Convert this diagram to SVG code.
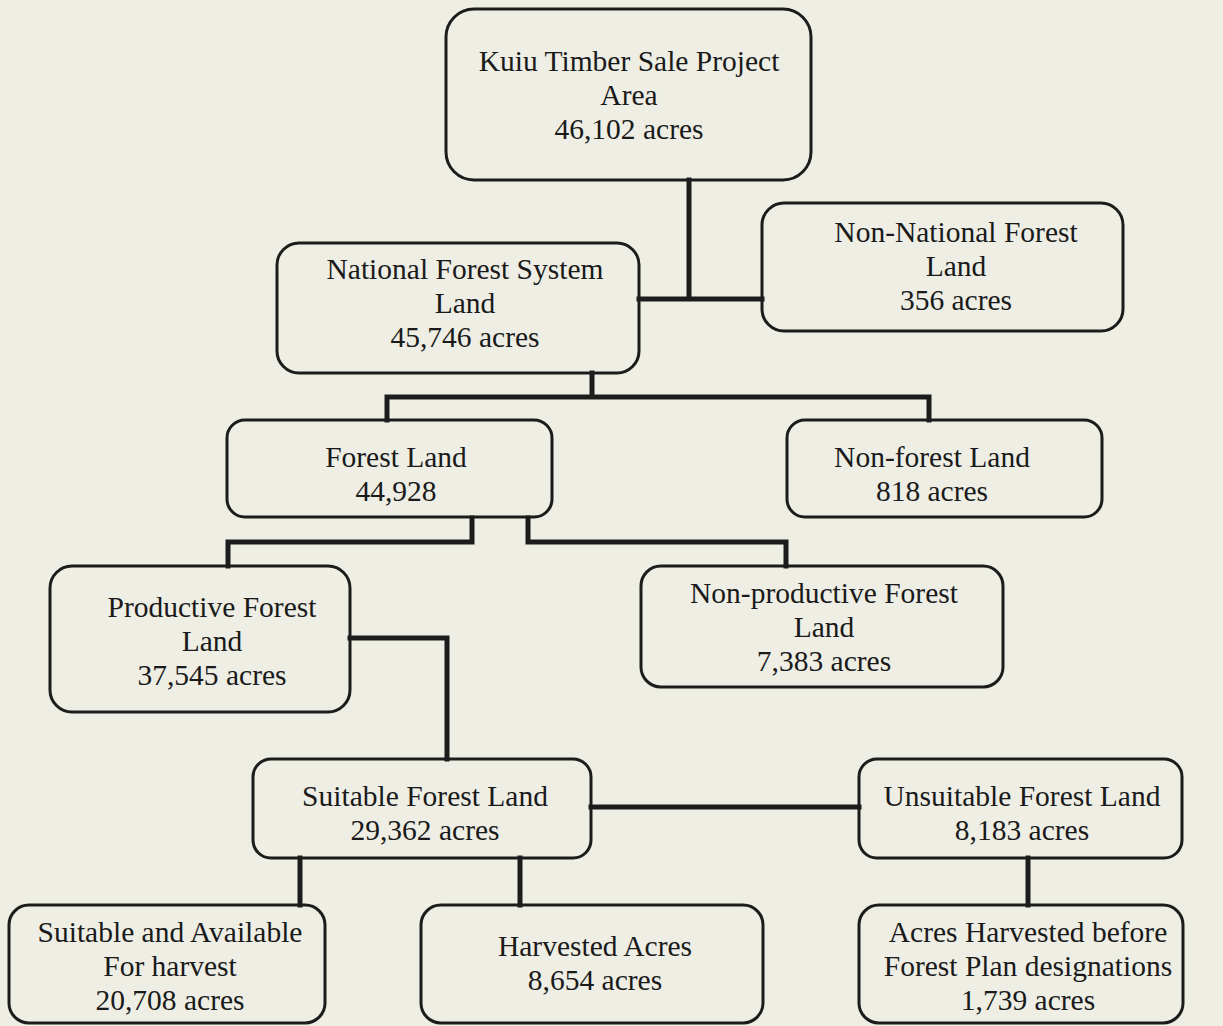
<svg xmlns="http://www.w3.org/2000/svg" width="1223" height="1026" viewBox="0 0 1223 1026">
  <style>
    .box { fill: none; stroke: #1c1c1c; stroke-width: 3; }
    .link { fill: none; stroke: #1c1c1c; stroke-width: 5; stroke-linejoin: miter; stroke-linecap: square; }
    text { font-family: "Liberation Serif", "Times New Roman", serif; font-size: 29.5px; fill: #1a1a1a; text-anchor: middle; }
  </style>
  <rect width="1223" height="1026" fill="#eeeee5"/>

  <!-- connectors -->
  <g id="connectors">
    <path class="link" d="M689,180 V299 M639,299 H762"/>
    <path class="link" d="M592,373 V397 M387,420 V397 H929 V420"/>
    <path class="link" d="M472,518 V542 H228 V566"/>
    <path class="link" d="M528,518 V542 H786 V566"/>
    <path class="link" d="M350,638 H447 V759"/>
    <path class="link" d="M591,807 H859"/>
    <path class="link" d="M300,858 V905 M520,858 V905"/>
    <path class="link" d="M1028,858 V905"/>
  </g>

  <g id="project-area">
    <rect class="box" x="446" y="9" width="365" height="171" rx="28"/>
    <text x="629" y="71">Kuiu Timber Sale Project</text>
    <text x="629" y="105">Area</text>
    <text x="629" y="139">46,102 acres</text>
  </g>

  <g id="nfs-land">
    <rect class="box" x="277" y="243" width="362" height="130" rx="22"/>
    <text x="465" y="279">National Forest System</text>
    <text x="465" y="313">Land</text>
    <text x="465" y="347">45,746 acres</text>
  </g>

  <g id="non-nfs-land">
    <rect class="box" x="762" y="203" width="361" height="128" rx="22"/>
    <text x="956" y="242">Non-National Forest</text>
    <text x="956" y="276">Land</text>
    <text x="956" y="310">356 acres</text>
  </g>

  <g id="forest-land">
    <rect class="box" x="227" y="420" width="325" height="97" rx="18"/>
    <text x="396" y="467">Forest Land</text>
    <text x="396" y="501">44,928</text>
  </g>

  <g id="non-forest-land">
    <rect class="box" x="787" y="420" width="315" height="97" rx="18"/>
    <text x="932" y="467">Non-forest Land</text>
    <text x="932" y="501">818 acres</text>
  </g>

  <g id="productive">
    <rect class="box" x="50" y="566" width="300" height="146" rx="22"/>
    <text x="212" y="617">Productive Forest</text>
    <text x="212" y="651">Land</text>
    <text x="212" y="685">37,545 acres</text>
  </g>

  <g id="non-productive">
    <rect class="box" x="641" y="566" width="362" height="121" rx="20"/>
    <text x="824" y="603">Non-productive Forest</text>
    <text x="824" y="637">Land</text>
    <text x="824" y="671">7,383 acres</text>
  </g>

  <g id="suitable">
    <rect class="box" x="253" y="759" width="338" height="99" rx="18"/>
    <text x="425" y="806">Suitable Forest Land</text>
    <text x="425" y="840">29,362 acres</text>
  </g>

  <g id="unsuitable">
    <rect class="box" x="859" y="759" width="323" height="99" rx="18"/>
    <text x="1022" y="806">Unsuitable Forest Land</text>
    <text x="1022" y="840">8,183 acres</text>
  </g>

  <g id="available">
    <rect class="box" x="9" y="905" width="316" height="118" rx="20"/>
    <text x="170" y="942">Suitable and Available</text>
    <text x="170" y="976">For harvest</text>
    <text x="170" y="1010">20,708 acres</text>
  </g>

  <g id="harvested">
    <rect class="box" x="421" y="905" width="342" height="118" rx="20"/>
    <text x="595" y="956">Harvested Acres</text>
    <text x="595" y="990">8,654 acres</text>
  </g>

  <g id="pre-plan-harvest">
    <rect class="box" x="859" y="905" width="324" height="118" rx="20"/>
    <text x="1028" y="942">Acres Harvested before</text>
    <text x="1028" y="976">Forest Plan designations</text>
    <text x="1028" y="1010">1,739 acres</text>
  </g>
</svg>
